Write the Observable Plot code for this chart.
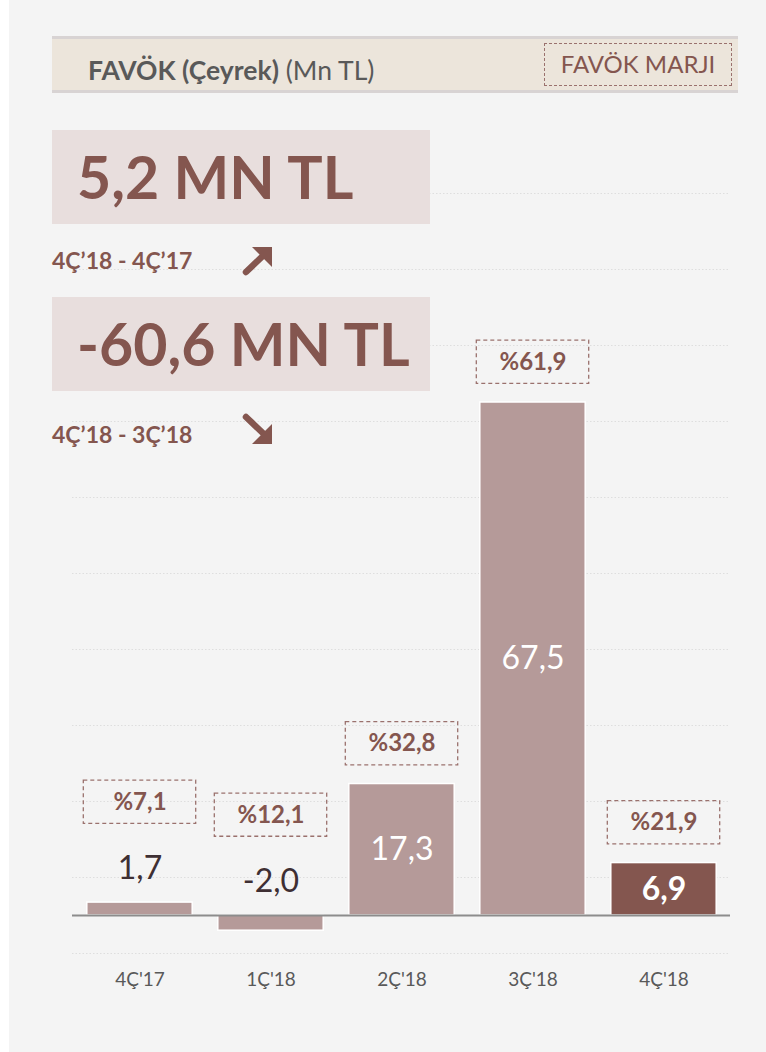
<!DOCTYPE html>
<html>
<head>
<meta charset="utf-8">
<script src="https://cdn.jsdelivr.net/npm/d3@7"></script>
<script src="https://cdn.jsdelivr.net/npm/@observablehq/plot@0.6"></script>
<style>
html, body { margin: 0; padding: 0; background: #ffffff; }
#page { position: relative; width: 766px; height: 1052px; overflow: hidden; font-family: Lato, "Open Sans", sans-serif; }
#panel { position: absolute; left: 9px; top: 0; width: 757px; height: 1052px; background: #f4f4f4; }
#chart { position: absolute; left: 0; top: 0; }
.hdr { position: absolute; left: 52px; top: 36px; width: 686px; height: 57px; box-sizing: border-box;
       background: #ece5db; border-top: 3px solid #d8d3d3; border-bottom: 3px solid #d8d3d3; }
.title { position: absolute; left: 88px; top: 57px; font-size: 26.5px; line-height: 26.5px; color: #595959; white-space: nowrap; }
.title b { font-weight: 700; }
.legend { position: absolute; left: 544px; top: 43px; width: 188px; height: 43px; box-sizing: border-box;
          border: 1.3px dashed #9a716d; color: #84564f; font-size: 24px; line-height: 40px; text-align: center; }
.big { position: absolute; left: 52px; width: 378px; height: 94px; background: #e8dedd; }
.big span { position: absolute; left: 25px; top: 17px; font-size: 59px; font-weight: 700; color: #84564f; line-height: 59px; white-space: nowrap; }
.cmp { position: absolute; left: 52px; font-size: 23px; font-weight: 700; color: #84564f; line-height: 23px; white-space: nowrap; }
.arrow { position: absolute; left: 240px; width: 36px; height: 34px; }
</style>
</head>
<body>
<div id="page">
  <div id="panel"></div>
  <div id="chart"></div>
  <div class="hdr"></div>
  <div class="title"><b>FAVÖK (Çeyrek)</b> (Mn TL)</div>
  <div class="legend">FAVÖK MARJI</div>
  <div class="big" style="top:130px"><span>5,2 MN TL</span></div>
  <div class="cmp" style="top:249px">4Ç’18 - 4Ç’17</div>
  <svg class="arrow" style="top:243px" viewBox="0 0 36 34">
    <line x1="6" y1="29" x2="27" y2="9" stroke="#84564f" stroke-width="6.5" stroke-linecap="round"/>
    <polygon points="12,4 32,4 32,24" fill="#84564f"/>
  </svg>
  <div class="big" style="top:297px"><span>-60,6 MN TL</span></div>
  <div class="cmp" style="top:423px">4Ç’18 - 3Ç’18</div>
  <svg class="arrow" style="top:413px" viewBox="0 0 36 34">
    <line x1="6" y1="4" x2="27" y2="24" stroke="#84564f" stroke-width="6.5" stroke-linecap="round"/>
    <polygon points="12,31 32,31 32,11" fill="#84564f"/>
  </svg>
</div>
<script>
const quarters = ["4Ç'17", "1Ç'18", "2Ç'18", "3Ç'18", "4Ç'18"];
const favok = [1.7, -2.0, 17.3, 67.5, 6.9];
const margins = ["%7,1", "%12,1", "%32,8", "%61,9", "%21,9"];
const labelInside = [false, false, true, true, true];
const highlighted = [false, false, false, false, true];
const gridValues = [-5, 5, 15, 25, 35, 45, 55, 65, 75, 85, 95];

const data = quarters.map((q, i) => ({
  q, v: favok[i], m: margins[i], inside: labelInside[i], hl: highlighted[i]
}));
const fmt = d => d.v.toFixed(1).replace(".", ",");
const labelY = d => d.inside ? d.v / 2 : Math.max(d.v, 0) + 4.4;
const boxC = d => d.inside ? d.v + 5.3 : Math.max(d.v, 0) + 13.2;

const chart = Plot.plot({
  width: 766,
  height: 1052,
  marginLeft: 72,
  marginRight: 36,
  marginTop: 193,
  marginBottom: 99,
  style: { background: "transparent", fontFamily: "Lato, 'Open Sans', sans-serif", overflow: "visible" },
  x: { domain: quarters, padding: 0 },
  y: { domain: [-5, 95], axis: null },
  color: { type: "identity" },
  marks: [
    Plot.ruleY(gridValues, { stroke: "#dedede", strokeWidth: 1, strokeDasharray: "1.5,2" }),
    Plot.barY(data, {
      x: "q", y: "v",
      fill: d => d.hl ? "#84564f" : "#b59a99",
      stroke: "#ffffff", strokeWidth: 1.5,
      insetLeft: 12.8, insetRight: 12.8
    }),
    Plot.ruleY([0], { stroke: "#8c8c8c", strokeWidth: 2.2 }),
    Plot.barY(data, {
      x: "q", y1: d => boxC(d) - 2.84, y2: d => boxC(d) + 2.84,
      fill: "none", stroke: "#9a716d", strokeWidth: 1.3, strokeDasharray: "4,3",
      insetLeft: 9.3, insetRight: 9.3
    }),
    Plot.text(data, {
      x: "q", y: boxC, text: "m",
      fill: "#84564f", fontSize: 24, fontWeight: "bold"
    }),
    Plot.text(data.filter(d => !d.hl), {
      x: "q", y: labelY, text: fmt,
      fill: d => d.inside ? "#ffffff" : "#3e2f33", fontSize: 32
    }),
    Plot.text(data.filter(d => d.hl), {
      x: "q", y: labelY, text: fmt,
      fill: "#ffffff", fontSize: 32, fontWeight: "bold"
    }),
    Plot.axisX({ anchor: "bottom", tickSize: 0, tickPadding: 19, fontSize: 19, fill: "#595959", label: null })
  ]
});
document.getElementById("chart").appendChild(chart);
</script>
</body>
</html>
